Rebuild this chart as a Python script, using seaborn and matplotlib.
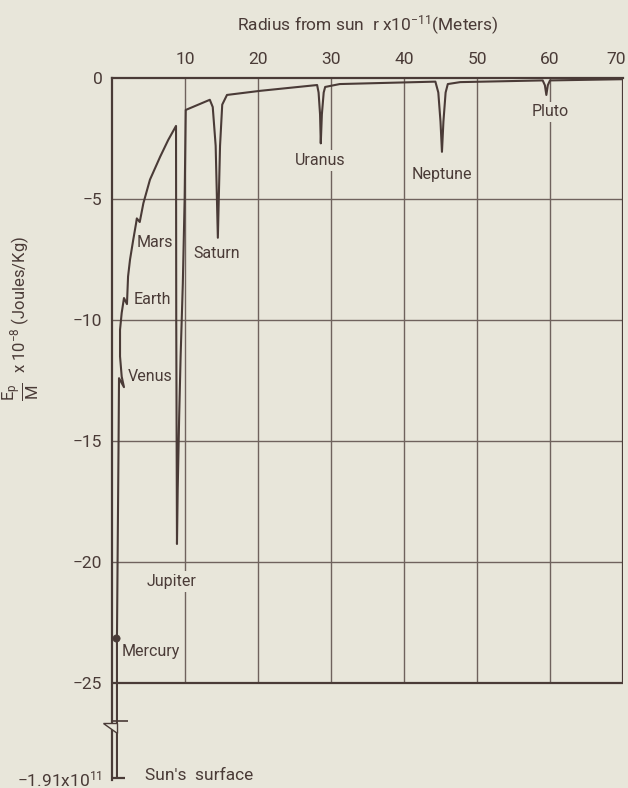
import matplotlib
matplotlib.use("Agg")
import matplotlib.pyplot as plt
import matplotlib.transforms as mtransforms
import seaborn as sns
import pandas as pd
from matplotlib.patches import Polygon

# ---- data (x: r x 1e-11 m, y: Ep/M x 1e-8 J/kg) ----
curve_x = [0.68, 0.68, 0.9, 0.96, 1.64, 1.33, 1.1, 1.1, 1.33, 1.64, 2.05, 2.2, 2.47, 2.9, 3.3, 3.4, 3.8,
           4.3, 5.2, 6.6, 7.7, 8.77, 8.8, 8.9, 9.0, 9.2, 9.4, 9.7, 9.95, 10.1,
           13.4, 13.8, 14.2, 14.5, 14.8, 15.1, 15.75, 20.3, 28.1,
           28.3, 28.5, 28.6, 28.75, 29.0, 29.2, 31.2, 44.3,
           44.7, 45.0, 45.2, 45.4, 45.7, 46.0, 47.7, 59.0,
           59.3, 59.5, 59.7, 60.0, 70.0]
curve_y = [-28.9, -23.1, -15.0, -12.4, -12.77, -12.34, -11.5, -10.4, -9.7, -9.09, -9.34, -8.2, -7.5, -6.7, -6.0, -5.8, -5.95,
           -5.17, -4.2, -3.25, -2.56, -1.98, -10.0, -19.25, -17.0, -14.0, -11.5, -8.5, -5.0, -1.32,
           -0.9, -1.2, -2.8, -6.6, -2.8, -1.1, -0.7, -0.53, -0.29,
           -0.6, -1.5, -2.7, -1.5, -0.6, -0.37, -0.25, -0.15,
           -0.6, -1.8, -3.05, -1.8, -0.6, -0.25, -0.17, -0.1,
           -0.3, -0.7, -0.3, -0.1, -0.05]

mercury_dot = (0.48, -23.14)

planet_names = ["Mercury", "Venus", "Earth", "Mars", "Jupiter", "Saturn", "Uranus", "Neptune", "Pluto"]
label_x = [1.37, 2.2, 2.9, 3.4, 4.8, 11.1, 25.1, 41.1, 57.5]
label_y = [-23.7, -12.35, -9.17, -6.8, -20.8, -7.27, -3.4, -4.0, -1.4]

x_ticks = [10, 20, 30, 40, 50, 60, 70]
y_ticks = [0, -5, -10, -15, -20, -25]
y_tick_labels = ["0", "\u22125", "\u221210", "\u221215", "\u221220", "\u221225"]
sun_surface_y = -28.9
sun_surface_label = "\u22121.91x10$^{11}$"

# ---- style ----
BG = "#e8e6da"
INK = "#4a3b37"
GRID = "#6f625d"
FONT = "Roboto"

sns.set_theme(style="white")
plt.rcParams["font.family"] = [FONT, "DejaVu Sans"]
plt.rcParams["mathtext.fontset"] = "custom"
plt.rcParams["mathtext.rm"] = FONT
plt.rcParams["mathtext.it"] = FONT + ":italic"
plt.rcParams["mathtext.bf"] = FONT + ":bold"
plt.rcParams["figure.facecolor"] = BG
plt.rcParams["axes.facecolor"] = BG

fig = plt.figure(figsize=(6.28, 7.88), dpi=100)
ax = fig.add_axes([112 / 628, 1 - 780 / 788, (623 - 112) / 628, 702 / 788])
ax.set_facecolor(BG)
ax.set_xlim(0, 70)
ax.set_ylim(-29.0, 0)

# grid inside the box (0..-25)
ax.vlines(x_ticks[:-1], -25, 0, color=GRID, lw=1.0, zorder=1)
ax.hlines(y_ticks[1:-1], 0, 70, color=GRID, lw=1.0, zorder=1)
ax.hlines([-25], 0, 70, color=INK, lw=1.6, zorder=2)
ax.vlines([70], -25, 0, color=INK, lw=1.6, zorder=2)

for s in ["right", "bottom"]:
    ax.spines[s].set_visible(False)
for s in ["top", "left"]:
    ax.spines[s].set_color(INK)
    ax.spines[s].set_linewidth(1.6)

# sun's surface "L"
ax.hlines([sun_surface_y], 0, 1.8, color=INK, lw=1.6, zorder=3, clip_on=False)

# break mark on the axis
ax.hlines([-26.55], 0, 2.2, color=INK, lw=1.2, zorder=7, clip_on=False)
ax.add_patch(Polygon([(-1.3, -26.65), (0.68, -26.65), (0.68, -27.07)], closed=True,
                     facecolor=BG, edgecolor=INK, lw=1.0, zorder=8, clip_on=False))

# curve
df = pd.DataFrame({"r": curve_x, "E": curve_y})
sns.lineplot(data=df, x="r", y="E", sort=False, estimator=None, color=INK, lw=1.5, ax=ax, zorder=6)
sns.scatterplot(x=[mercury_dot[0]], y=[mercury_dot[1]], color=INK, s=28, ax=ax, zorder=7, edgecolor=INK)

for name, lx, ly in zip(planet_names, label_x, label_y):
    ax.text(lx, ly, name, ha="left", va="center", fontsize=11.5, color=INK, zorder=3,
            bbox=dict(facecolor=BG, edgecolor="none", pad=2))
ax.text(4.5, -28.8, "Sun's  surface", ha="left", va="center", fontsize=12.5, color=INK, clip_on=False)

# ticks
ax.xaxis.tick_top()
ax.set_xticks(x_ticks)
ax.set_xticklabels([str(v) for v in x_ticks])
ax.set_yticks(y_ticks + [sun_surface_y])
ax.set_yticklabels(y_tick_labels + [sun_surface_label])
ax.tick_params(axis="both", length=0, labelsize=12.5, colors=INK)
ax.tick_params(axis="x", pad=8)
ax.tick_params(axis="y", pad=7)
ax.set_xlabel("")
ax.set_ylabel("")
last = ax.get_xticklabels()[-1]
last.set_transform(last.get_transform() + mtransforms.ScaledTranslation(-5 / 72, 0, fig.dpi_scale_trans))

fig.text(368 / 628, 1 - 25 / 788, "Radius from sun  r x10$^{-11}$(Meters)", ha="center", va="center",
         fontsize=12.5, color=INK)
fig.text(20 / 628, 1 - 304 / 788, "x 10$^{-8}$ (Joules/Kg)",
         rotation=90, ha="center", va="center", fontsize=12, color=INK)
fig.text(21 / 628, 1 - 392 / 788, r"$\frac{\mathrm{E_p}}{\mathrm{M}}$",
         rotation=90, ha="center", va="center", fontsize=17, color=INK)

fig.savefig("out.png", dpi=100, facecolor=BG)
